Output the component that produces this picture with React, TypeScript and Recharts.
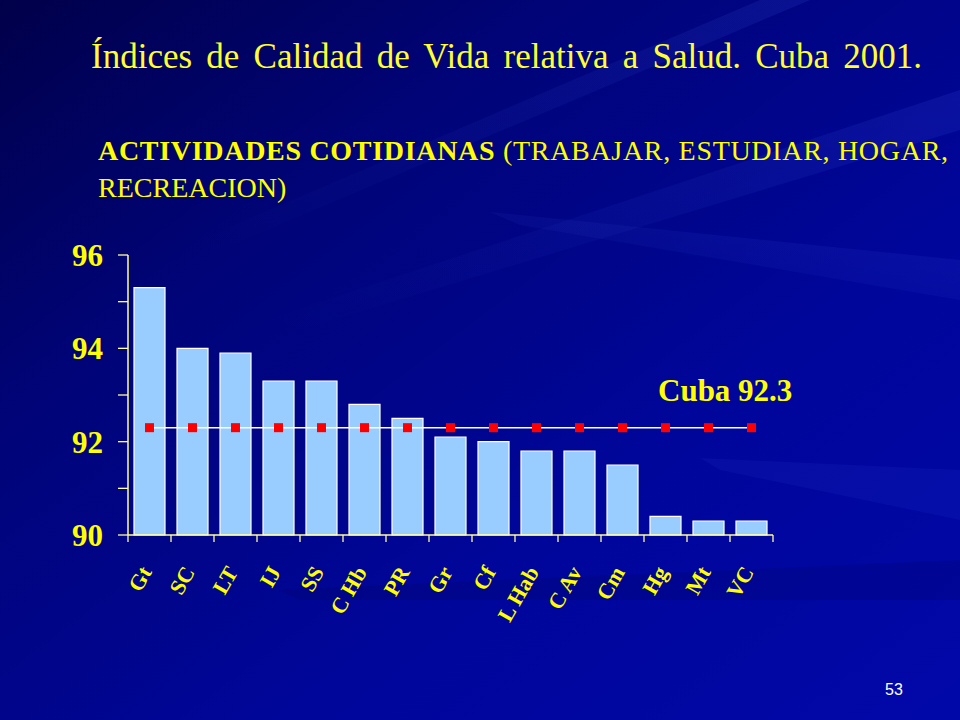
import React from 'react';
import { ComposedChart, Bar, Line, XAxis, YAxis } from 'recharts';

const categories = ['Gt', 'SC', 'LT', 'IJ', 'SS', 'C Hb', 'PR', 'Gr', 'Cf', 'L Hab', 'C Av', 'Cm', 'Hg', 'Mt', 'VC'];
const values = [95.3, 94.0, 93.9, 93.3, 93.3, 92.8, 92.5, 92.1, 92.0, 91.8, 91.8, 91.5, 90.4, 90.3, 90.3];
const cubaValue = 92.3;
const yTicks = [90, 91, 92, 93, 94, 95, 96];
const yLabelTicks = [90, 92, 94, 96];

const W = 960;
const H = 720;
const YAXIS_W = 128;
const MARGIN = { top: 255, right: 187, bottom: 65, left: 0 };
const XAXIS_H = 120;
const PLOT_W = W - YAXIS_W - MARGIN.right - MARGIN.left;

const data = categories.map((name, i) => ({ name, value: values[i], cuba: cubaValue }));

const AXIS_COLOR = '#ffff99';
const YELLOW = '#ffff00';
const SERIF = '"Liberation Serif", "Times New Roman", serif';

const YTick = (props: any) => {
  const { x, y, payload } = props;
  if (!yLabelTicks.includes(payload.value)) return <g />;
  return (
    <text x={x} y={y} dy="0.36em" textAnchor="end" fill={YELLOW} fontFamily={SERIF} fontWeight="bold" fontSize={31}>
      {payload.value}
    </text>
  );
};

const XTick = (props: any) => {
  const { x, y, payload, index } = props;
  const step = PLOT_W / categories.length;
  const isLast = index === categories.length - 1;
  const lx = x + 3;
  const ly = y + 37;
  return (
    <g>
      <line x1={x - step / 2} y1={y} x2={x - step / 2} y2={y + 7} stroke={AXIS_COLOR} strokeWidth={1.3} />
      {isLast && <line x1={x + step / 2} y1={y} x2={x + step / 2} y2={y + 7} stroke={AXIS_COLOR} strokeWidth={1.3} />}
      <text
        x={lx}
        y={ly}
        textAnchor="end"
        transform={`rotate(-60 ${lx} ${ly})`}
        fill={YELLOW}
        fontFamily={SERIF}
        fontWeight="bold"
        fontSize={22}
      >
        {payload.value}
      </text>
    </g>
  );
};

const SquareDot = (props: any) => {
  const { cx, cy, index } = props;
  if (cx == null || cy == null) return <g key={`d${index}`} />;
  return <rect key={`d${index}`} x={cx - 4.5} y={cy - 4.5} width={9} height={9} fill="#ff0000" />;
};

const Background = () => (
  <svg width={W} height={H} style={{ position: 'absolute', left: 0, top: 0 }}>
    <defs>
      <linearGradient id="bg" x1="0" y1="0" x2="1" y2="1">
        <stop offset="0" stopColor="#00004a" />
        <stop offset="0.3" stopColor="#000478" />
        <stop offset="0.65" stopColor="#00069a" />
        <stop offset="1" stopColor="#0008a8" />
      </linearGradient>
      <linearGradient id="ray" x1="1" y1="0" x2="0" y2="1">
        <stop offset="0" stopColor="#5070ff" stopOpacity="0.12" />
        <stop offset="1" stopColor="#5070ff" stopOpacity="0" />
      </linearGradient>
    </defs>
    <rect x={0} y={0} width={W} height={H} fill="url(#bg)" />
    <polygon points="960,90 960,130 300,330 260,322" fill="url(#ray)" />
    <polygon points="960,260 960,300 520,225 490,212" fill="url(#ray)" />
    <polygon points="960,470 960,520 720,470 700,458" fill="#4060ff" fillOpacity={0.08} />
    <polygon points="760,0 810,0 220,250 190,244" fill="url(#ray)" />
    <polygon points="960,560 960,600 300,600 280,590" fill="#000040" fillOpacity={0.15} />
  </svg>
);

export default function App() {
  return (
    <div style={{ position: 'absolute', left: 0, top: 0, width: W, height: H, overflow: 'hidden' }}>
      <Background />
      <svg width={W} height={240} style={{ position: 'absolute', left: 0, top: 0 }}>
        <text x={91} y={68} fill="#ffff33" fontFamily={SERIF} fontSize={35} style={{ wordSpacing: '5.5px' }}>
          Índices de Calidad de Vida relativa a Salud. Cuba 2001.
        </text>
        <text x={98} y={160} textLength={850} lengthAdjust="spacing" fill={YELLOW} fontFamily={SERIF} fontSize={28}>
          <tspan fontWeight="bold">ACTIVIDADES COTIDIANAS</tspan>
          <tspan> (TRABAJAR, ESTUDIAR, HOGAR,</tspan>
        </text>
        <text x={98} y={197} fill={YELLOW} fontFamily={SERIF} fontSize={28}>
          RECREACION)
        </text>
      </svg>
      <div style={{ position: 'absolute', left: 0, top: 0 }}>
        <ComposedChart width={W} height={H} data={data} margin={MARGIN} barSize={31}>
          <XAxis
            dataKey="name"
            interval={0}
            height={XAXIS_H}
            tickLine={false}
            tickSize={0}
            tickMargin={0}
            axisLine={{ stroke: AXIS_COLOR, strokeWidth: 1.5 }}
            tick={<XTick />}
          />
          <YAxis
            width={YAXIS_W}
            domain={[90, 96]}
            ticks={yTicks}
            interval={0}
            tickSize={10}
            tickMargin={15}
            tickLine={{ stroke: AXIS_COLOR, strokeWidth: 1.3 }}
            axisLine={{ stroke: AXIS_COLOR, strokeWidth: 1.5 }}
            tick={<YTick />}
          />
          <Bar dataKey="value" fill="#99ccff" stroke="#ffffff" strokeWidth={1.2} isAnimationActive={false} />
          <Line
            dataKey="cuba"
            stroke="#ffffff"
            strokeWidth={1.5}
            dot={<SquareDot />}
            activeDot={false}
            isAnimationActive={false}
          />
        </ComposedChart>
      </div>
      <div
        style={{
          position: 'absolute',
          left: 658,
          top: 373,
          fontFamily: SERIF,
          fontWeight: 'bold',
          fontSize: 31,
          color: YELLOW,
          whiteSpace: 'nowrap',
          lineHeight: '36px',
        }}
      >
        Cuba 92.3
      </div>
      <div
        style={{
          position: 'absolute',
          left: 885,
          top: 680,
          fontFamily: '"Liberation Sans", Arial, sans-serif',
          fontSize: 16,
          color: '#ffffff',
          lineHeight: '20px',
        }}
      >
        53
      </div>
    </div>
  );
}
